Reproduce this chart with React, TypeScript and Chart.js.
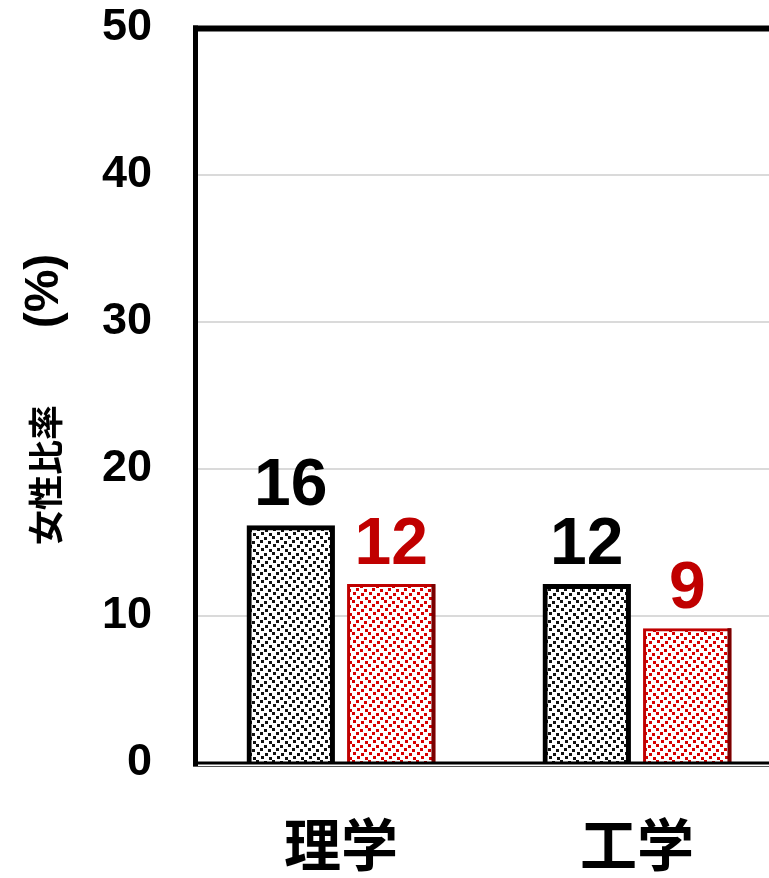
import React, { useEffect, useRef } from 'react';
import { Chart, registerables } from 'chart.js';

Chart.register(...registerables);

const categories = ['理学', '工学', ''];
const seriesBlack: (number | null)[] = [16, 12, null];
const seriesRed: (number | null)[] = [12, 9, null];
const yTicks = [0, 10, 20, 30, 40, 50];
const yTitleMain = '女性比率';
const yTitleUnit = '(%)';

const RED = '#C00000';

function makePattern(dot: string): CanvasPattern | string {
  const c = document.createElement('canvas');
  c.width = 16;
  c.height = 16;
  const g = c.getContext('2d');
  if (!g) return '#fff';
  g.fillStyle = '#ffffff';
  g.fillRect(0, 0, 16, 16);
  g.fillStyle = dot;
  const pts = [
    [1, 0], [9, 1], [5, 4], [13, 5], [0, 8], [8, 9], [4, 12], [12, 13],
  ];
  pts.forEach(([x, y]) => g.fillRect(x, y, 3, 3));
  const p = g.createPattern(c, 'repeat');
  return p || '#fff';
}

const decorPlugin = {
  id: 'decor',
  afterDatasetsDraw(chart: any) {
    const { ctx, chartArea: a } = chart;
    ctx.save();
    // red bar shading on right edge
    const m1 = chart.getDatasetMeta(1);
    m1.data.forEach((el: any, i: number) => {
      if (chart.data.datasets[1].data[i] == null) return;
      const right = el.x + el.width / 2 + 2.5;
      ctx.fillStyle = '#7a0000';
      ctx.fillRect(right - 4, el.y - 2.5, 4, a.bottom - el.y + 2.5);
    });
    // value labels
    chart.data.datasets.forEach((ds: any, di: number) => {
      const meta = chart.getDatasetMeta(di);
      meta.data.forEach((el: any, i: number) => {
        const v = ds.data[i];
        if (v == null) return;
        ctx.font = 'bold 66px "Liberation Sans", Arial, sans-serif';
        ctx.fillStyle = di === 0 ? '#000000' : RED;
        ctx.textAlign = 'center';
        ctx.textBaseline = 'alphabetic';
        ctx.fillText(String(v), el.x, el.y - 23);
      });
    });
    // frame
    ctx.fillStyle = '#000000';
    ctx.fillRect(a.left, a.top - 2.5, chart.width - a.left, 6);
    ctx.fillRect(a.left, a.top - 2.5, 5, a.bottom + 3 - (a.top - 2.5));
    ctx.fillRect(a.left, a.bottom - 1.5, chart.width - a.left, 3);
    ctx.fillStyle = '#555555';
    ctx.fillRect(a.left, a.bottom + 3, chart.width - a.left, 1);
    // y title
    ctx.fillStyle = '#000000';
    ctx.textAlign = 'center';
    ctx.textBaseline = 'middle';
    ctx.save();
    ctx.translate(46, 475);
    ctx.rotate(-Math.PI / 2);
    ctx.font = 'bold 35px "Noto Sans CJK JP", sans-serif';
    ctx.fillText(yTitleMain, 0, 0);
    ctx.restore();
    ctx.save();
    ctx.translate(45, 291);
    ctx.rotate(-Math.PI / 2);
    ctx.font = 'bold 48px "Liberation Sans", Arial, sans-serif';
    ctx.fillText(yTitleUnit, 0, 0);
    ctx.restore();
    ctx.restore();
  },
};

export default function App() {
  const ref = useRef<HTMLCanvasElement>(null);
  useEffect(() => {
    if (!ref.current) return;
    const chart = new Chart(ref.current, {
      type: 'bar',
      data: {
        labels: categories,
        datasets: [
          {
            label: 'A',
            data: seriesBlack,
            backgroundColor: makePattern('#111111') as any,
            borderColor: '#000000',
            borderWidth: 5,
            borderSkipped: 'bottom',
            inflateAmount: 2.5,
            categoryPercentage: 0.679,
            barPercentage: 0.83,
          },
          {
            label: 'B',
            data: seriesRed,
            backgroundColor: makePattern('#D80000') as any,
            borderColor: RED,
            borderWidth: 3,
            borderSkipped: 'bottom',
            inflateAmount: 2.5,
            categoryPercentage: 0.679,
            barPercentage: 0.83,
          },
        ],
      },
      options: {
        responsive: false,
        animation: false,
        devicePixelRatio: 1,
        layout: { padding: { top: 28, left: 0, right: 0, bottom: 0 } },
        plugins: {
          legend: { display: false },
          tooltip: { enabled: false },
          title: { display: false },
        },
        scales: {
          x: {
            grid: { display: false },
            border: { display: false },
            ticks: {
              color: '#000000',
              padding: 39,
              font: { family: '"Noto Sans CJK JP", sans-serif', size: 57, weight: 'bold' },
            },
            afterFit: (s: any) => {
              s.height = 115;
            },
          },
          y: {
            min: 0,
            max: 50,
            grid: {
              drawTicks: true,
              tickLength: 41,
              tickColor: 'rgba(0,0,0,0)',
              lineWidth: 2,
              color: (c: any) =>
                c.tick && (c.tick.value === 0 || c.tick.value === 50) ? 'rgba(0,0,0,0)' : '#dadada',
            },
            border: { display: false },
            ticks: {
              color: '#000000',
              padding: 0,
              font: { family: '"Liberation Sans", Arial, sans-serif', size: 45, weight: 'bold' },
            },
            afterBuildTicks: (s: any) => {
              s.ticks = yTicks.map((v) => ({ value: v }));
            },
            afterFit: (s: any) => {
              s.width = 193;
            },
          },
        },
      },
      plugins: [decorPlugin],
    } as any);
    return () => chart.destroy();
  }, []);
  return (
    <div
      style={{
        position: 'absolute',
        left: 0,
        top: 0,
        width: 769,
        height: 878,
        overflow: 'hidden',
        background: '#fff',
      }}
    >
      <canvas ref={ref} width={1081} height={878} style={{ display: 'block' }} />
    </div>
  );
}
